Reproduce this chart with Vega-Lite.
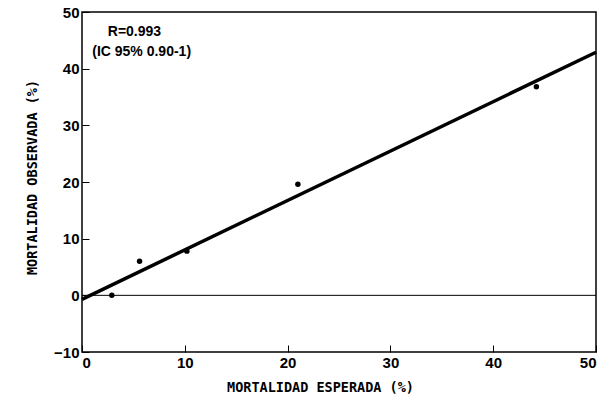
{
  "$schema": "https://vega.github.io/schema/vega-lite/v6.json",
  "width": 514,
  "height": 340,
  "autosize": "none",
  "padding": {"left": 82, "top": 12, "right": 12, "bottom": 50},
  "background": "white",
  "config": {
    "view": {"stroke": "black", "strokeWidth": 1.5},
    "font": "Liberation Sans",
    "axis": {
      "grid": false,
      "domain": false,
      "tickColor": "black",
      "tickSize": -7,
      "tickWidth": 1,
      "labelFont": "Liberation Sans",
      "labelFontWeight": "bold",
      "labelFontSize": 15,
      "labelColor": "black",
      "titleFont": "DejaVu Sans Mono",
      "titleFontWeight": "bold",
      "titleFontSize": 13.5,
      "titleColor": "black"
    }
  },
  "datasets": {
    "pts": [
      {"esperada": 2.9, "observada": 0},
      {"esperada": 5.6, "observada": 6.0},
      {"esperada": 10.2, "observada": 7.8},
      {"esperada": 21.0, "observada": 19.6},
      {"esperada": 44.2, "observada": 36.8}
    ],
    "fit": [
      {"esperada": 0, "observada": -0.7},
      {"esperada": 50, "observada": 42.9}
    ],
    "zero": [
      {"esperada": 0, "observada": 0},
      {"esperada": 50, "observada": 0}
    ],
    "labels": [
      {"esperada": 5.1, "observada": 46.5, "label": "R=0.993"},
      {"esperada": 5.8, "observada": 43.0, "label": "(IC 95% 0.90-1)"}
    ]
  },
  "layer": [
    {
      "data": {"name": "zero"},
      "mark": {"type": "line", "color": "black", "strokeWidth": 1},
      "encoding": {
        "x": {"field": "esperada", "type": "quantitative", "scale": {"domain": [0, 50], "nice": false},
              "axis": {"values": [0, 10, 20, 30, 40, 50], "title": "MORTALIDAD ESPERADA (%)", "labelPadding": 10, "titlePadding": 10, "titleX": 238}},
        "y": {"field": "observada", "type": "quantitative", "scale": {"domain": [-10, 50], "nice": false},
              "axis": {"values": [-10, 0, 10, 20, 30, 40, 50], "title": "MORTALIDAD OBSERVADA (%)", "labelPadding": 10, "titlePadding": 14, "titleY": 165}}
      }
    },
    {
      "data": {"name": "fit"},
      "mark": {"type": "line", "color": "black", "strokeWidth": 3.5},
      "encoding": {
        "x": {"field": "esperada", "type": "quantitative"},
        "y": {"field": "observada", "type": "quantitative"}
      }
    },
    {
      "data": {"name": "pts"},
      "mark": {"type": "point", "filled": true, "color": "black", "size": 30, "opacity": 1},
      "encoding": {
        "x": {"field": "esperada", "type": "quantitative"},
        "y": {"field": "observada", "type": "quantitative"}
      }
    },
    {
      "data": {"name": "labels"},
      "mark": {"type": "text", "color": "black", "fontWeight": "bold", "fontSize": 14, "align": "center", "baseline": "middle"},
      "encoding": {
        "x": {"field": "esperada", "type": "quantitative"},
        "y": {"field": "observada", "type": "quantitative"},
        "text": {"field": "label"}
      }
    }
  ]
}
